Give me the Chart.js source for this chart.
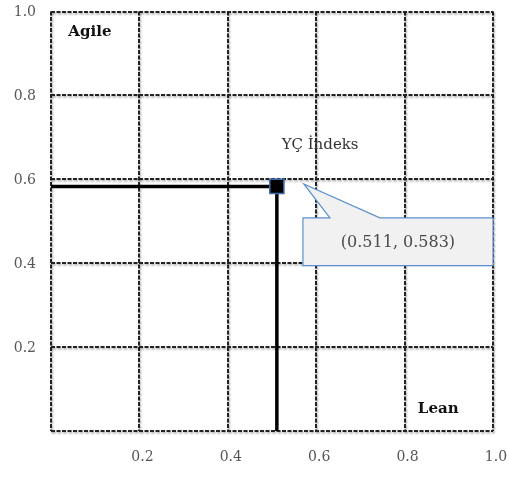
<!DOCTYPE html>
<html>
<head>
<meta charset="utf-8">
<script src="https://cdn.jsdelivr.net/npm/chart.js@4.4.1/dist/chart.umd.min.js"></script>
<style>
  html, body { margin: 0; padding: 0; background: #ffffff; }
  #wrap { width: 509px; height: 477px; position: relative; }
</style>
</head>
<body>
<div id="wrap"><canvas id="c" width="509" height="477"></canvas></div>
<script>
// Index position on the Lean (x) / Agile (y) plane
const indexX = [0.511];
const indexY = [0.583];
const indexName = 'YÇ İndeks';
const cornerLabels = ['Agile', 'Lean'];
const tickValues = [0, 0.2, 0.4, 0.6, 0.8, 1.0];

const SERIF = '"DejaVu Serif", "Liberation Serif", serif';
const GRID = '#222';

// Guide lines from the axes to the index point
const hLine = [{ x: 0, y: indexY[0] }, { x: indexX[0], y: indexY[0] }];
const vLine = [{ x: indexX[0], y: indexY[0] }, { x: indexX[0], y: 0 }];
const points = indexX.map((x, i) => ({ x, y: indexY[i] }));

// Soft drop shadow under the dashed grid only
const gridShadow = {
  id: 'gridShadow',
  beforeDraw(chart) {
    const ctx = chart.ctx;
    ctx.shadowColor = 'rgba(0,0,0,0.35)';
    ctx.shadowBlur = 2;
    ctx.shadowOffsetX = 1;
    ctx.shadowOffsetY = 1.5;
  },
  beforeDatasetsDraw(chart) {
    const ctx = chart.ctx;
    ctx.shadowColor = 'rgba(0,0,0,0)';
    ctx.shadowBlur = 0;
    ctx.shadowOffsetX = 0;
    ctx.shadowOffsetY = 0;
  }
};

// Draws corner captions, the series caption and the value callout
const overlay = {
  id: 'overlay',
  afterDatasetsDraw(chart) {
    const ctx = chart.ctx;
    const xs = chart.scales.x, ys = chart.scales.y;
    const px = v => xs.getPixelForValue(v);
    const py = v => ys.getPixelForValue(v);
    ctx.save();
    ctx.textAlign = 'center';
    ctx.textBaseline = 'middle';

    // corner captions
    ctx.fillStyle = '#111';
    ctx.font = 'bold 15px ' + SERIF;
    ctx.fillText(cornerLabels[0], px(0.088), py(0.952));
    ctx.fillText(cornerLabels[1], px(0.876), py(0.052));

    // series caption
    ctx.fillStyle = '#333';
    ctx.font = '15px ' + SERIF;
    ctx.fillText(indexName, px(0.609), py(0.682));

    // callout with pointer towards the marker
    const bx0 = px(0.570), bx1 = px(1.0);
    const by0 = py(0.508), by1 = py(0.394);
    const tipX = px(0.572), tipY = py(0.589);
    const t0 = px(0.631), t1 = px(0.744);
    ctx.beginPath();
    ctx.moveTo(bx0, by0);
    ctx.lineTo(t0, by0);
    ctx.lineTo(tipX, tipY);
    ctx.lineTo(t1, by0);
    ctx.lineTo(bx1, by0);
    ctx.lineTo(bx1, by1);
    ctx.lineTo(bx0, by1);
    ctx.closePath();
    ctx.fillStyle = '#f1f1f1';
    ctx.fill();
    ctx.lineWidth = 1.2;
    ctx.strokeStyle = '#5b8fd0';
    ctx.stroke();

    ctx.fillStyle = '#4a4a4a';
    ctx.font = '16px ' + SERIF;
    const txt = '(' + indexX[0].toFixed(3) + ', ' + indexY[0].toFixed(3) + ')';
    ctx.fillText(txt, (bx0 + bx1) / 2, (by0 + by1) / 2 + 1);
    ctx.restore();
  }
};

const tickCb = v => (v === 0 ? '' : Number(v).toFixed(1));

new Chart(document.getElementById('c'), {
  type: 'scatter',
  data: {
    datasets: [
      { data: hLine, showLine: true, borderColor: '#000', borderWidth: 3.5, pointRadius: 0, order: 2 },
      { data: vLine, showLine: true, borderColor: '#000', borderWidth: 3.5, pointRadius: 0, order: 2 },
      {
        data: points, pointStyle: 'rect', pointRadius: 10, pointHoverRadius: 10,
        backgroundColor: '#000', borderColor: '#3f6fae', borderWidth: 1.5, order: 1
      }
    ]
  },
  options: {
    responsive: false,
    animation: false,
    devicePixelRatio: 1,
    layout: { padding: { left: 0, right: 16, top: 10, bottom: 0 } },
    plugins: { legend: { display: false }, tooltip: { enabled: false } },
    scales: {
      x: {
        type: 'linear', min: 0, max: 1,
        afterBuildTicks: s => { s.ticks = tickValues.map(v => ({ value: v })); },
        afterFit: s => { s.height = 46; s.paddingLeft = 0; s.paddingRight = 0; },
        grid: { color: GRID, lineWidth: 2, drawTicks: false },
        border: { display: false, dash: [4, 1.5] },
        ticks: { z: 1, callback: tickCb, padding: 18, labelOffset: 3, color: '#555', font: { family: SERIF, size: 14 }, maxRotation: 0 }
      },
      y: {
        type: 'linear', min: 0, max: 1,
        afterBuildTicks: s => { s.ticks = tickValues.map(v => ({ value: v })); },
        afterFit: s => { s.width = 51; s.paddingTop = 0; s.paddingBottom = 0; },
        grid: { color: GRID, lineWidth: 2, drawTicks: false },
        border: { display: false, dash: [4, 1.5] },
        ticks: { z: 1, callback: tickCb, padding: 15, labelOffset: 1, color: '#555', font: { family: SERIF, size: 14 } }
      }
    }
  },
  plugins: [gridShadow, overlay]
});
</script>
</body>
</html>
